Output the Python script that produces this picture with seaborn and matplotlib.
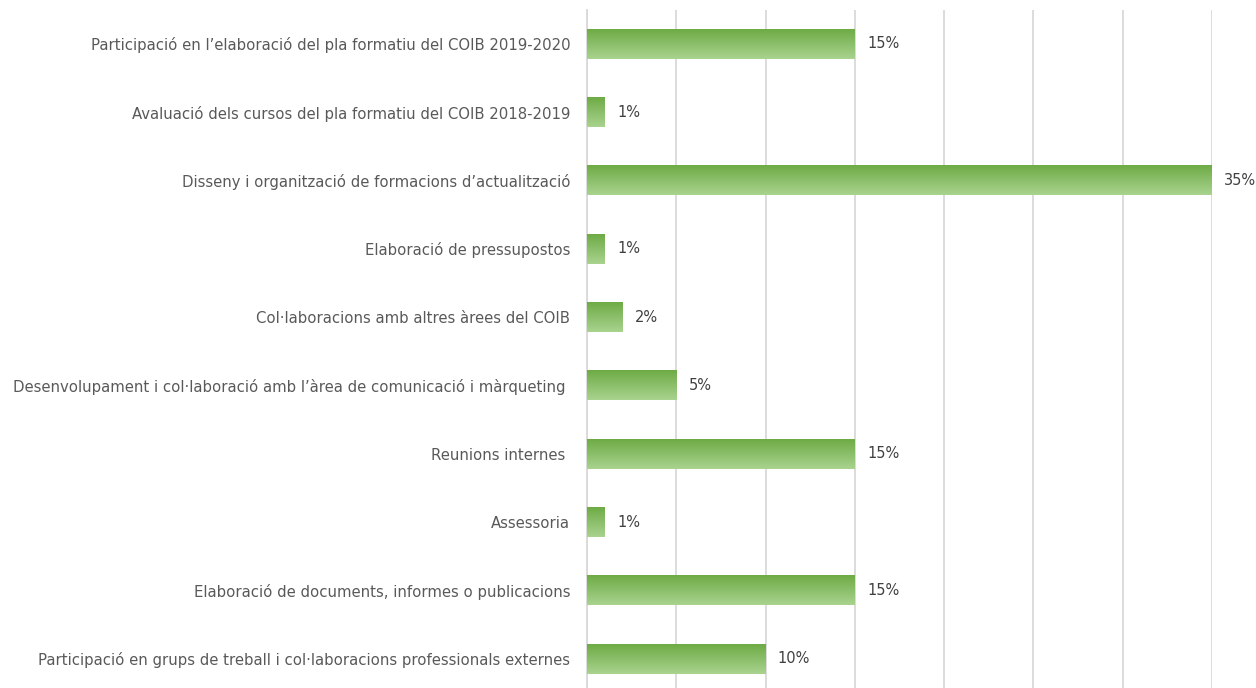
import numpy as np
import pandas as pd
import matplotlib
matplotlib.use("Agg")
import matplotlib.pyplot as plt
import seaborn as sns
from matplotlib.colors import LinearSegmentedColormap

sns.set_theme(style="white")
plt.rcParams['font.family'] = ['DejaVu Sans']

# Data
categories = [
    "Participació en l’elaboració del pla formatiu del COIB 2019-2020",
    "Avaluació dels cursos del pla formatiu del COIB 2018-2019",
    "Disseny i organització de formacions d’actualització",
    "Elaboració de pressupostos",
    "Col·laboracions amb altres àrees del COIB",
    "Desenvolupament i col·laboració amb l’àrea de comunicació i màrqueting ",
    "Reunions internes ",
    "Assessoria",
    "Elaboració de documents, informes o publicacions",
    "Participació en grups de treball i col·laboracions professionals externes",
]
values = [0.15, 0.01, 0.35, 0.01, 0.02, 0.05, 0.15, 0.01, 0.15, 0.10]

df = pd.DataFrame({"tasca": categories, "pct": values})

fig = plt.figure(figsize=(12.56, 6.88), dpi=100)
top_px, bot_px = 9.8, 693.0
ax = fig.add_axes([587 / 1256, 1 - bot_px / 688, (1212 - 587) / 1256,
                   (bot_px - top_px) / 688])

sns.barplot(data=df, x="pct", y="tasca", orient="h", width=0.43,
            color="#70AD47", ax=ax, zorder=3)

# vertical gradient (dark green on top, light at bottom)
cmap = LinearSegmentedColormap.from_list("g", ["#6EAB45", "#A9D38F"])
grad = np.linspace(0, 1, 100).reshape(-1, 1)
for p in ax.patches:
    x0, y0 = p.get_x(), p.get_y()
    w, h = p.get_width(), p.get_height()
    p.set_facecolor("none")
    p.set_edgecolor("none")
    ax.imshow(grad, cmap=cmap, aspect="auto", zorder=3,
              extent=[x0, x0 + w, y0 + h, y0], origin="upper")

for i, v in enumerate(values):
    ax.text(v + 0.0068, i, f"{v:.0%}", va="center", ha="left",
            fontsize=10.5, color="#404040", zorder=4)

ax.set_xlim(0, 0.35)
ax.set_ylim(len(categories) - 0.5, -0.5)
ax.set_xticks(np.arange(0, 0.351, 0.05))
ax.set_xticklabels([])
ax.tick_params(axis="x", length=0)
ax.tick_params(axis="y", length=0, labelsize=10.7, labelcolor="#595959", pad=12)
ax.grid(axis="x", color="#D9D9D9", linewidth=1.3, zorder=0)
ax.set_xlabel("")
ax.set_ylabel("")
for s in ["top", "right", "bottom"]:
    ax.spines[s].set_visible(False)
ax.spines["left"].set_color("#D9D9D9")
ax.spines["left"].set_linewidth(1.3)

fig.savefig("out.png", dpi=100)
